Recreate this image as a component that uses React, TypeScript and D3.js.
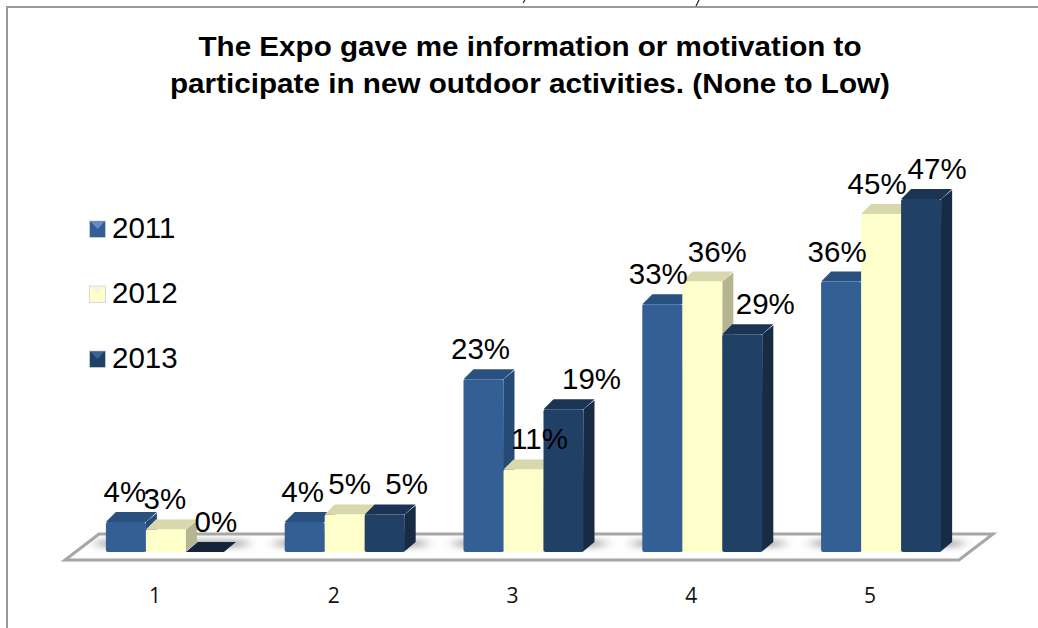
import React from "react";
import * as d3 from "d3";

const categories = ["1", "2", "3", "4", "5"];
const years = ["2011", "2012", "2013"];
const values2011 = [4, 4, 23, 33, 36];
const values2012 = [3, 5, 11, 36, 45];
const values2013 = [0, 5, 19, 29, 47];
const series = [values2011, values2012, values2013];
const titleLines = [
  "The Expo gave me information or motivation to",
  "participate in new outdoor activities. (None to Low)",
];

const faces = [
  { front: "#335f95", top: "#2a5080", side: "#254a75", mark: "#5f8fc8" },
  { front: "#ffffcb", top: "#d8d8ac", side: "#b5b591", mark: "#f6f6dc" },
  { front: "#204066", top: "#1b3454", side: "#172b45", mark: "#3d6490" },
];
const legendTop = [221, 286, 351];
// horizontal shift of each value label from the centre of its bar
const labelShift = [
  [-1, -1, 10],
  [-2, 5, 22],
  [-3, 16, 28],
  [-4, 15, 23],
  [-4, -4, 16],
];

const W = 1038;
const H = 628;
const base = 552;
const y = d3.scaleLinear().domain([0, 47]).range([base, 199]);
const x0 = d3.scaleBand<string>().domain(categories).range([65.5, 959.5]);
const barW = 40;
const dx = 12;
const dy = 10;
const sans = "'Liberation Sans', Arial, sans-serif";
const label = "'Open Sans', 'Noto Sans', sans-serif";

function barX(c: string, s: number) {
  return (x0(c) as number) + x0.bandwidth() / 2 - 49 + s * barW;
}

export default function App() {
  return (
    <svg
      width={W}
      height={H}
      viewBox={`0 0 ${W} ${H}`}
      style={{ position: "fixed", left: 0, top: 0, background: "#fff" }}
    >
      <defs>
        <filter id="blur" x="-20%" y="-100%" width="140%" height="300%">
          <feGaussianBlur stdDeviation="7 3" />
        </filter>
        <clipPath id="floorClip">
          <path d="M99,535.5 H992 L958,558.5 H66 Z" />
        </clipPath>
      </defs>
      <rect x={0} y={0} width={W} height={H} fill="#fff" />
      <path d={`M7,${H} V7 H${W}`} fill="none" stroke="#999" strokeWidth={2} />
      <path d="M525,0 L523,3 M699,0 L696,6" stroke="#222" strokeWidth={1.2} fill="none" />

      {titleLines.map((t, i) => (
        <text
          key={t}
          x={530}
          y={56 + i * 36.5}
          textAnchor="middle"
          fontFamily={sans}
          fontWeight={700}
          fontSize={28.5}
          fill="#000"
          textLength={i === 0 ? 663 : 720}
          lengthAdjust="spacingAndGlyphs"
        >
          {t}
        </text>
      ))}

      <path
        d="M99,534 H993 L959,560 H65 Z"
        fill="#fff"
        stroke="#a6a6a6"
        strokeWidth={3}
        strokeLinejoin="miter"
      />
      <g clipPath="url(#floorClip)">
        {categories.map((c) => (
          <rect
            key={c}
            x={barX(c, 0) - 8}
            y={540}
            width={3 * barW + dx + 16}
            height={7}
            fill="#a8a8a8"
            filter="url(#blur)"
          />
        ))}
      </g>

      {categories.map((c, ci) =>
        [0, 1, 2].map((s) => {
          const v = series[s][ci];
          const bx = barX(c, s);
          const top = y(v);
          const f = faces[s];
          if (v === 0) {
            return (
              <path
                key={s}
                d={`M${bx},${base} H${bx + barW - 2} L${bx + barW + 10},${base - dy} H${bx + dx} Z`}
                fill="#14243a"
              />
            );
          }
          return (
            <g key={s}>
              <path
                d={`M${bx + barW},${top} L${bx + barW + dx - 1},${top - dy + 1} V${base - dy} L${bx + barW - 1},${base} Z`}
                fill={f.side}
              />
              <path
                d={`M${bx},${top} L${bx + dx - 2},${top - dy} H${bx + barW + dx - 1} L${bx + barW},${top} Z`}
                fill={f.top}
              />
              <rect x={bx} y={top} width={barW} height={base - top} rx={2} fill={f.front} />
            </g>
          );
        })
      )}

      {categories.map((c, ci) =>
        series.map((vals, s) => (
          <text
            key={s}
            x={barX(c, s) + barW / 2 + labelShift[ci][s]}
            y={y(vals[ci]) - 20}
            textAnchor="middle"
            fontFamily={sans}
            fontSize={29.5}
            fill="#000"
          >
            {vals[ci]}%
          </text>
        ))
      )}

      {categories.map((c) => (
        <text
          key={c}
          x={(x0(c) as number) + x0.bandwidth() / 2}
          y={603}
          textAnchor="middle"
          fontFamily={label}
          fontSize={21}
          fill="#111"
        >
          {c}
        </text>
      ))}

      {years.map((yr, i) => {
        const t = legendTop[i];
        return (
          <g key={yr}>
            <rect x={89.5} y={t} width={16} height={16.5} fill={faces[i].front} stroke="#c9d2da" strokeWidth={0.8} />
            <path d={`M91,${t + 1} H104 L97.5,${t + 8} Z`} fill={faces[i].mark} />
            <text x={112} y={t + 16.5} fontFamily={sans} fontSize={29.5} fill="#000">
              {yr}
            </text>
          </g>
        );
      })}
    </svg>
  );
}
